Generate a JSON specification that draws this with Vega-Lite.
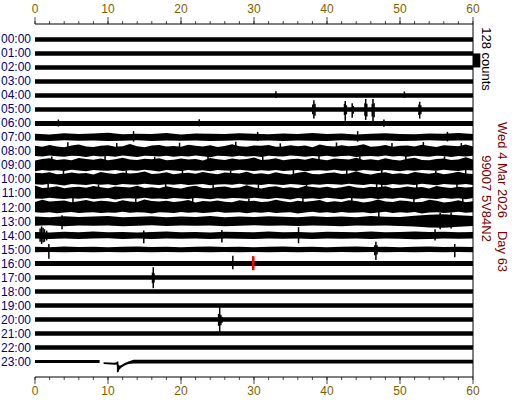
{
"$schema": "https://vega.github.io/schema/vega-lite/v6.json",
"width": 438, "height": 353,
"autosize": {"type": "none"},
"padding": {"left": 35, "top": 24, "right": 39, "bottom": 23},
"background": "white",
"config": {"view": {"stroke": null}, "font": "Liberation Sans", "axis": {"disable": true}},
"data": {"values": [{}]},
"datasets": {
"traces": [
{"tr":"h00","m":0,"a":-0.16,"b":0.16},{"tr":"h00","m":60,"a":-0.16,"b":0.16},
{"tr":"h01","m":0,"a":0.84,"b":1.16},{"tr":"h01","m":60,"a":0.84,"b":1.16},
{"tr":"h02","m":0,"a":1.84,"b":2.16},{"tr":"h02","m":60,"a":1.84,"b":2.16},
{"tr":"h03","m":0,"a":2.84,"b":3.16},{"tr":"h03","m":60,"a":2.84,"b":3.16},
{"tr":"h04","m":0,"a":3.84,"b":4.16},{"tr":"h04","m":60,"a":3.84,"b":4.16},
{"tr":"h05","m":0,"a":4.84,"b":5.16},{"tr":"h05","m":60,"a":4.84,"b":5.16},
{"tr":"h06","m":0,"a":5.82,"b":6.18},{"tr":"h06","m":60,"a":5.82,"b":6.18},
{"tr":"h07","m":0,"a":6.74,"b":7.22},{"tr":"h07","m":2,"a":6.78,"b":7.26},{"tr":"h07","m":4,"a":6.70,"b":7.20},{"tr":"h07","m":6,"a":6.76,"b":7.24},{"tr":"h07","m":8,"a":6.72,"b":7.21},{"tr":"h07","m":10,"a":6.67,"b":7.25},{"tr":"h07","m":12,"a":6.77,"b":7.23},{"tr":"h07","m":14,"a":6.73,"b":7.20},{"tr":"h07","m":16,"a":6.75,"b":7.26},{"tr":"h07","m":18,"a":6.69,"b":7.22},{"tr":"h07","m":20,"a":6.78,"b":7.24},{"tr":"h07","m":22,"a":6.72,"b":7.21},{"tr":"h07","m":24,"a":6.74,"b":7.25},{"tr":"h07","m":26,"a":6.76,"b":7.23},{"tr":"h07","m":28,"a":6.70,"b":7.20},{"tr":"h07","m":30,"a":6.73,"b":7.24},{"tr":"h07","m":32,"a":6.77,"b":7.22},{"tr":"h07","m":34,"a":6.71,"b":7.26},{"tr":"h07","m":36,"a":6.75,"b":7.21},{"tr":"h07","m":38,"a":6.68,"b":7.23},{"tr":"h07","m":40,"a":6.76,"b":7.25},{"tr":"h07","m":42,"a":6.72,"b":7.20},{"tr":"h07","m":44,"a":6.78,"b":7.24},{"tr":"h07","m":46,"a":6.73,"b":7.22},{"tr":"h07","m":48,"a":6.70,"b":7.21},{"tr":"h07","m":50,"a":6.75,"b":7.25},{"tr":"h07","m":52,"a":6.77,"b":7.23},{"tr":"h07","m":54,"a":6.71,"b":7.20},{"tr":"h07","m":56,"a":6.74,"b":7.24},{"tr":"h07","m":58,"a":6.69,"b":7.22},{"tr":"h07","m":60,"a":6.76,"b":7.21},
{"tr":"h08","m":0,"a":7.60,"b":8.32},{"tr":"h08","m":1,"a":7.67,"b":8.36},{"tr":"h08","m":2,"a":7.53,"b":8.29},{"tr":"h08","m":3,"a":7.64,"b":8.34},{"tr":"h08","m":4,"a":7.69,"b":8.38},{"tr":"h08","m":5,"a":7.57,"b":8.31},{"tr":"h08","m":6,"a":7.50,"b":8.33},{"tr":"h08","m":7,"a":7.65,"b":8.40},{"tr":"h08","m":8,"a":7.68,"b":8.30},{"tr":"h08","m":9,"a":7.59,"b":8.35},{"tr":"h08","m":10,"a":7.55,"b":8.32},{"tr":"h08","m":11,"a":7.66,"b":8.37},{"tr":"h08","m":12,"a":7.62,"b":8.29},{"tr":"h08","m":13,"a":7.47,"b":8.34},{"tr":"h08","m":14,"a":7.63,"b":8.39},{"tr":"h08","m":15,"a":7.69,"b":8.31},{"tr":"h08","m":16,"a":7.58,"b":8.33},{"tr":"h08","m":17,"a":7.54,"b":8.36},{"tr":"h08","m":18,"a":7.65,"b":8.30},{"tr":"h08","m":19,"a":7.61,"b":8.38},{"tr":"h08","m":20,"a":7.67,"b":8.32},{"tr":"h08","m":21,"a":7.52,"b":8.35},{"tr":"h08","m":22,"a":7.59,"b":8.29},{"tr":"h08","m":23,"a":7.64,"b":8.34},{"tr":"h08","m":24,"a":7.56,"b":8.41},{"tr":"h08","m":25,"a":7.68,"b":8.31},{"tr":"h08","m":26,"a":7.61,"b":8.33},{"tr":"h08","m":27,"a":7.49,"b":8.37},{"tr":"h08","m":28,"a":7.63,"b":8.30},{"tr":"h08","m":29,"a":7.66,"b":8.35},{"tr":"h08","m":30,"a":7.57,"b":8.32},{"tr":"h08","m":31,"a":7.60,"b":8.39},{"tr":"h08","m":32,"a":7.53,"b":8.31},{"tr":"h08","m":33,"a":7.67,"b":8.34},{"tr":"h08","m":34,"a":7.64,"b":8.36},{"tr":"h08","m":35,"a":7.55,"b":8.29},{"tr":"h08","m":36,"a":7.62,"b":8.33},{"tr":"h08","m":37,"a":7.58,"b":8.38},{"tr":"h08","m":38,"a":7.69,"b":8.32},{"tr":"h08","m":39,"a":7.51,"b":8.35},{"tr":"h08","m":40,"a":7.61,"b":8.30},{"tr":"h08","m":41,"a":7.65,"b":8.37},{"tr":"h08","m":42,"a":7.56,"b":8.33},{"tr":"h08","m":43,"a":7.63,"b":8.31},{"tr":"h08","m":44,"a":7.59,"b":8.40},{"tr":"h08","m":45,"a":7.48,"b":8.34},{"tr":"h08","m":46,"a":7.66,"b":8.32},{"tr":"h08","m":47,"a":7.62,"b":8.36},{"tr":"h08","m":48,"a":7.54,"b":8.29},{"tr":"h08","m":49,"a":7.67,"b":8.35},{"tr":"h08","m":50,"a":7.60,"b":8.33},{"tr":"h08","m":51,"a":7.57,"b":8.38},{"tr":"h08","m":52,"a":7.64,"b":8.31},{"tr":"h08","m":53,"a":7.52,"b":8.34},{"tr":"h08","m":54,"a":7.61,"b":8.37},{"tr":"h08","m":55,"a":7.68,"b":8.30},{"tr":"h08","m":56,"a":7.55,"b":8.33},{"tr":"h08","m":57,"a":7.59,"b":8.39},{"tr":"h08","m":58,"a":7.63,"b":8.32},{"tr":"h08","m":59,"a":7.50,"b":8.35},{"tr":"h08","m":60,"a":7.65,"b":8.31},
{"tr":"h09","m":0,"a":8.64,"b":9.42},{"tr":"h09","m":1,"a":8.53,"b":9.32},{"tr":"h09","m":2,"a":8.49,"b":9.37},{"tr":"h09","m":3,"a":8.60,"b":9.34},{"tr":"h09","m":4,"a":8.56,"b":9.39},{"tr":"h09","m":5,"a":8.62,"b":9.31},{"tr":"h09","m":6,"a":8.47,"b":9.36},{"tr":"h09","m":7,"a":8.54,"b":9.41},{"tr":"h09","m":8,"a":8.59,"b":9.33},{"tr":"h09","m":9,"a":8.51,"b":9.35},{"tr":"h09","m":10,"a":8.63,"b":9.38},{"tr":"h09","m":11,"a":8.56,"b":9.32},{"tr":"h09","m":12,"a":8.44,"b":9.40},{"tr":"h09","m":13,"a":8.58,"b":9.34},{"tr":"h09","m":14,"a":8.61,"b":9.37},{"tr":"h09","m":15,"a":8.52,"b":9.31},{"tr":"h09","m":16,"a":8.55,"b":9.36},{"tr":"h09","m":17,"a":8.48,"b":9.43},{"tr":"h09","m":18,"a":8.62,"b":9.33},{"tr":"h09","m":19,"a":8.59,"b":9.35},{"tr":"h09","m":20,"a":8.50,"b":9.39},{"tr":"h09","m":21,"a":8.57,"b":9.32},{"tr":"h09","m":22,"a":8.53,"b":9.37},{"tr":"h09","m":23,"a":8.64,"b":9.34},{"tr":"h09","m":24,"a":8.46,"b":9.41},{"tr":"h09","m":25,"a":8.56,"b":9.33},{"tr":"h09","m":26,"a":8.60,"b":9.36},{"tr":"h09","m":27,"a":8.51,"b":9.38},{"tr":"h09","m":28,"a":8.58,"b":9.31},{"tr":"h09","m":29,"a":8.54,"b":9.35},{"tr":"h09","m":30,"a":8.43,"b":9.40},{"tr":"h09","m":31,"a":8.61,"b":9.34},{"tr":"h09","m":32,"a":8.57,"b":9.37},{"tr":"h09","m":33,"a":8.49,"b":9.32},{"tr":"h09","m":34,"a":8.62,"b":9.39},{"tr":"h09","m":35,"a":8.55,"b":9.35},{"tr":"h09","m":36,"a":8.52,"b":9.33},{"tr":"h09","m":37,"a":8.59,"b":9.42},{"tr":"h09","m":38,"a":8.47,"b":9.36},{"tr":"h09","m":39,"a":8.56,"b":9.34},{"tr":"h09","m":40,"a":8.63,"b":9.38},{"tr":"h09","m":41,"a":8.50,"b":9.31},{"tr":"h09","m":42,"a":8.54,"b":9.37},{"tr":"h09","m":43,"a":8.58,"b":9.35},{"tr":"h09","m":44,"a":8.45,"b":9.40},{"tr":"h09","m":45,"a":8.60,"b":9.33},{"tr":"h09","m":46,"a":8.55,"b":9.36},{"tr":"h09","m":47,"a":8.62,"b":9.39},{"tr":"h09","m":48,"a":8.48,"b":9.32},{"tr":"h09","m":49,"a":8.59,"b":9.35},{"tr":"h09","m":50,"a":8.64,"b":9.41},{"tr":"h09","m":51,"a":8.52,"b":9.34},{"tr":"h09","m":52,"a":8.45,"b":9.37},{"tr":"h09","m":53,"a":8.60,"b":9.33},{"tr":"h09","m":54,"a":8.63,"b":9.34},{"tr":"h09","m":55,"a":8.54,"b":9.38},{"tr":"h09","m":56,"a":8.50,"b":9.31},{"tr":"h09","m":57,"a":8.61,"b":9.36},{"tr":"h09","m":58,"a":8.57,"b":9.40},{"tr":"h09","m":59,"a":8.42,"b":9.33},{"tr":"h09","m":60,"a":8.58,"b":9.35},
{"tr":"h10","m":0,"a":9.52,"b":10.34},{"tr":"h10","m":1,"a":9.55,"b":10.37},{"tr":"h10","m":2,"a":9.48,"b":10.31},{"tr":"h10","m":3,"a":9.62,"b":10.36},{"tr":"h10","m":4,"a":9.59,"b":10.43},{"tr":"h10","m":5,"a":9.50,"b":10.33},{"tr":"h10","m":6,"a":9.57,"b":10.35},{"tr":"h10","m":7,"a":9.53,"b":10.39},{"tr":"h10","m":8,"a":9.64,"b":10.32},{"tr":"h10","m":9,"a":9.46,"b":10.37},{"tr":"h10","m":10,"a":9.56,"b":10.34},{"tr":"h10","m":11,"a":9.60,"b":10.41},{"tr":"h10","m":12,"a":9.51,"b":10.33},{"tr":"h10","m":13,"a":9.58,"b":10.36},{"tr":"h10","m":14,"a":9.54,"b":10.38},{"tr":"h10","m":15,"a":9.43,"b":10.31},{"tr":"h10","m":16,"a":9.61,"b":10.35},{"tr":"h10","m":17,"a":9.57,"b":10.40},{"tr":"h10","m":18,"a":9.49,"b":10.34},{"tr":"h10","m":19,"a":9.62,"b":10.37},{"tr":"h10","m":20,"a":9.55,"b":10.32},{"tr":"h10","m":21,"a":9.52,"b":10.39},{"tr":"h10","m":22,"a":9.59,"b":10.35},{"tr":"h10","m":23,"a":9.47,"b":10.33},{"tr":"h10","m":24,"a":9.56,"b":10.42},{"tr":"h10","m":25,"a":9.63,"b":10.36},{"tr":"h10","m":26,"a":9.50,"b":10.34},{"tr":"h10","m":27,"a":9.54,"b":10.38},{"tr":"h10","m":28,"a":9.58,"b":10.31},{"tr":"h10","m":29,"a":9.45,"b":10.37},{"tr":"h10","m":30,"a":9.60,"b":10.35},{"tr":"h10","m":31,"a":9.55,"b":10.40},{"tr":"h10","m":32,"a":9.62,"b":10.33},{"tr":"h10","m":33,"a":9.48,"b":10.36},{"tr":"h10","m":34,"a":9.59,"b":10.39},{"tr":"h10","m":35,"a":9.64,"b":10.32},{"tr":"h10","m":36,"a":9.52,"b":10.35},{"tr":"h10","m":37,"a":9.45,"b":10.41},{"tr":"h10","m":38,"a":9.60,"b":10.34},{"tr":"h10","m":39,"a":9.63,"b":10.37},{"tr":"h10","m":40,"a":9.54,"b":10.33},{"tr":"h10","m":41,"a":9.50,"b":10.34},{"tr":"h10","m":42,"a":9.61,"b":10.38},{"tr":"h10","m":43,"a":9.57,"b":10.31},{"tr":"h10","m":44,"a":9.42,"b":10.36},{"tr":"h10","m":45,"a":9.58,"b":10.40},{"tr":"h10","m":46,"a":9.64,"b":10.33},{"tr":"h10","m":47,"a":9.53,"b":10.35},{"tr":"h10","m":48,"a":9.49,"b":10.42},{"tr":"h10","m":49,"a":9.60,"b":10.32},{"tr":"h10","m":50,"a":9.56,"b":10.37},{"tr":"h10","m":51,"a":9.62,"b":10.34},{"tr":"h10","m":52,"a":9.47,"b":10.39},{"tr":"h10","m":53,"a":9.54,"b":10.31},{"tr":"h10","m":54,"a":9.59,"b":10.36},{"tr":"h10","m":55,"a":9.51,"b":10.41},{"tr":"h10","m":56,"a":9.63,"b":10.33},{"tr":"h10","m":57,"a":9.56,"b":10.35},{"tr":"h10","m":58,"a":9.44,"b":10.38},{"tr":"h10","m":59,"a":9.58,"b":10.32},{"tr":"h10","m":60,"a":9.61,"b":10.40},
{"tr":"h11","m":0,"a":10.43,"b":11.36},{"tr":"h11","m":1,"a":10.61,"b":11.38},{"tr":"h11","m":2,"a":10.57,"b":11.31},{"tr":"h11","m":3,"a":10.49,"b":11.35},{"tr":"h11","m":4,"a":10.62,"b":11.40},{"tr":"h11","m":5,"a":10.55,"b":11.34},{"tr":"h11","m":6,"a":10.52,"b":11.37},{"tr":"h11","m":7,"a":10.59,"b":11.32},{"tr":"h11","m":8,"a":10.47,"b":11.39},{"tr":"h11","m":9,"a":10.56,"b":11.35},{"tr":"h11","m":10,"a":10.63,"b":11.33},{"tr":"h11","m":11,"a":10.50,"b":11.42},{"tr":"h11","m":12,"a":10.54,"b":11.36},{"tr":"h11","m":13,"a":10.58,"b":11.34},{"tr":"h11","m":14,"a":10.45,"b":11.38},{"tr":"h11","m":15,"a":10.60,"b":11.31},{"tr":"h11","m":16,"a":10.55,"b":11.37},{"tr":"h11","m":17,"a":10.62,"b":11.35},{"tr":"h11","m":18,"a":10.48,"b":11.40},{"tr":"h11","m":19,"a":10.59,"b":11.33},{"tr":"h11","m":20,"a":10.64,"b":11.36},{"tr":"h11","m":21,"a":10.52,"b":11.39},{"tr":"h11","m":22,"a":10.45,"b":11.32},{"tr":"h11","m":23,"a":10.60,"b":11.35},{"tr":"h11","m":24,"a":10.63,"b":11.41},{"tr":"h11","m":25,"a":10.54,"b":11.34},{"tr":"h11","m":26,"a":10.50,"b":11.37},{"tr":"h11","m":27,"a":10.61,"b":11.33},{"tr":"h11","m":28,"a":10.57,"b":11.34},{"tr":"h11","m":29,"a":10.42,"b":11.38},{"tr":"h11","m":30,"a":10.58,"b":11.31},{"tr":"h11","m":31,"a":10.64,"b":11.36},{"tr":"h11","m":32,"a":10.53,"b":11.40},{"tr":"h11","m":33,"a":10.49,"b":11.33},{"tr":"h11","m":34,"a":10.60,"b":11.35},{"tr":"h11","m":35,"a":10.56,"b":11.42},{"tr":"h11","m":36,"a":10.62,"b":11.32},{"tr":"h11","m":37,"a":10.47,"b":11.37},{"tr":"h11","m":38,"a":10.54,"b":11.34},{"tr":"h11","m":39,"a":10.59,"b":11.39},{"tr":"h11","m":40,"a":10.51,"b":11.31},{"tr":"h11","m":41,"a":10.63,"b":11.36},{"tr":"h11","m":42,"a":10.56,"b":11.41},{"tr":"h11","m":43,"a":10.44,"b":11.33},{"tr":"h11","m":44,"a":10.58,"b":11.35},{"tr":"h11","m":45,"a":10.61,"b":11.38},{"tr":"h11","m":46,"a":10.52,"b":11.32},{"tr":"h11","m":47,"a":10.55,"b":11.40},{"tr":"h11","m":48,"a":10.48,"b":11.34},{"tr":"h11","m":49,"a":10.62,"b":11.37},{"tr":"h11","m":50,"a":10.59,"b":11.31},{"tr":"h11","m":51,"a":10.50,"b":11.36},{"tr":"h11","m":52,"a":10.57,"b":11.43},{"tr":"h11","m":53,"a":10.53,"b":11.33},{"tr":"h11","m":54,"a":10.64,"b":11.35},{"tr":"h11","m":55,"a":10.46,"b":11.39},{"tr":"h11","m":56,"a":10.56,"b":11.32},{"tr":"h11","m":57,"a":10.60,"b":11.37},{"tr":"h11","m":58,"a":10.51,"b":11.34},{"tr":"h11","m":59,"a":10.58,"b":11.41},{"tr":"h11","m":60,"a":10.54,"b":11.33},
{"tr":"h12","m":0,"a":11.60,"b":12.33},{"tr":"h12","m":1,"a":11.45,"b":12.37},{"tr":"h12","m":2,"a":11.58,"b":12.34},{"tr":"h12","m":3,"a":11.54,"b":12.41},{"tr":"h12","m":4,"a":11.50,"b":12.35},{"tr":"h12","m":5,"a":11.63,"b":12.32},{"tr":"h12","m":6,"a":11.56,"b":12.39},{"tr":"h12","m":7,"a":11.47,"b":12.36},{"tr":"h12","m":8,"a":11.59,"b":12.33},{"tr":"h12","m":9,"a":11.52,"b":12.40},{"tr":"h12","m":10,"a":11.55,"b":12.35},{"tr":"h12","m":11,"a":11.62,"b":12.37},{"tr":"h12","m":12,"a":11.49,"b":12.31},{"tr":"h12","m":13,"a":11.57,"b":12.38},{"tr":"h12","m":14,"a":11.61,"b":12.34},{"tr":"h12","m":15,"a":11.43,"b":12.36},{"tr":"h12","m":16,"a":11.54,"b":12.42},{"tr":"h12","m":17,"a":11.58,"b":12.33},{"tr":"h12","m":18,"a":11.51,"b":12.35},{"tr":"h12","m":19,"a":11.60,"b":12.39},{"tr":"h12","m":20,"a":11.56,"b":12.32},{"tr":"h12","m":21,"a":11.46,"b":12.37},{"tr":"h12","m":22,"a":11.64,"b":12.34},{"tr":"h12","m":23,"a":11.53,"b":12.40},{"tr":"h12","m":24,"a":11.57,"b":12.35},{"tr":"h12","m":25,"a":11.50,"b":12.31},{"tr":"h12","m":26,"a":11.59,"b":12.38},{"tr":"h12","m":27,"a":11.62,"b":12.36},{"tr":"h12","m":28,"a":11.48,"b":12.33},{"tr":"h12","m":29,"a":11.55,"b":12.41},{"tr":"h12","m":30,"a":11.52,"b":12.34},{"tr":"h12","m":31,"a":11.61,"b":12.37},{"tr":"h12","m":32,"a":11.58,"b":12.32},{"tr":"h12","m":33,"a":11.44,"b":12.39},{"tr":"h12","m":34,"a":11.56,"b":12.35},{"tr":"h12","m":35,"a":11.63,"b":12.33},{"tr":"h12","m":36,"a":11.51,"b":12.43},{"tr":"h12","m":37,"a":11.59,"b":12.36},{"tr":"h12","m":38,"a":11.54,"b":12.31},{"tr":"h12","m":39,"a":11.47,"b":12.37},{"tr":"h12","m":40,"a":11.62,"b":12.34},{"tr":"h12","m":41,"a":11.56,"b":12.40},{"tr":"h12","m":42,"a":11.60,"b":12.32},{"tr":"h12","m":43,"a":11.49,"b":12.38},{"tr":"h12","m":44,"a":11.53,"b":12.35},{"tr":"h12","m":45,"a":11.64,"b":12.33},{"tr":"h12","m":46,"a":11.58,"b":12.41},{"tr":"h12","m":47,"a":11.42,"b":12.36},{"tr":"h12","m":48,"a":11.57,"b":12.31},{"tr":"h12","m":49,"a":11.61,"b":12.39},{"tr":"h12","m":50,"a":11.50,"b":12.34},{"tr":"h12","m":51,"a":11.54,"b":12.37},{"tr":"h12","m":52,"a":11.63,"b":12.32},{"tr":"h12","m":53,"a":11.60,"b":12.42},{"tr":"h12","m":54,"a":11.45,"b":12.35},{"tr":"h12","m":55,"a":11.52,"b":12.33},{"tr":"h12","m":56,"a":11.64,"b":12.40},{"tr":"h12","m":57,"a":11.59,"b":12.36},{"tr":"h12","m":58,"a":11.48,"b":12.31},{"tr":"h12","m":59,"a":11.62,"b":12.38},{"tr":"h12","m":60,"a":11.55,"b":12.34},
{"tr":"h13","m":0,"a":12.65,"b":13.30},{"tr":"h13","m":2,"a":12.70,"b":13.27},{"tr":"h13","m":4,"a":12.62,"b":13.33},{"tr":"h13","m":6,"a":12.68,"b":13.29},{"tr":"h13","m":8,"a":12.64,"b":13.31},{"tr":"h13","m":10,"a":12.60,"b":13.28},{"tr":"h13","m":12,"a":12.69,"b":13.34},{"tr":"h13","m":14,"a":12.66,"b":13.30},{"tr":"h13","m":16,"a":12.63,"b":13.27},{"tr":"h13","m":18,"a":12.70,"b":13.32},{"tr":"h13","m":20,"a":12.64,"b":13.29},{"tr":"h13","m":22,"a":12.67,"b":13.31},{"tr":"h13","m":24,"a":12.61,"b":13.28},{"tr":"h13","m":26,"a":12.69,"b":13.33},{"tr":"h13","m":28,"a":12.65,"b":13.30},{"tr":"h13","m":30,"a":12.68,"b":13.27},{"tr":"h13","m":32,"a":12.62,"b":13.31},{"tr":"h13","m":34,"a":12.66,"b":13.29},{"tr":"h13","m":36,"a":12.70,"b":13.32},{"tr":"h13","m":38,"a":12.63,"b":13.28},{"tr":"h13","m":40,"a":12.67,"b":13.30},{"tr":"h13","m":42,"a":12.64,"b":13.33},{"tr":"h13","m":44,"a":12.69,"b":13.29},{"tr":"h13","m":46,"a":12.61,"b":13.31},{"tr":"h13","m":48,"a":12.66,"b":13.28},{"tr":"h13","m":50,"a":12.68,"b":13.32},{"tr":"h13","m":52,"a":12.58,"b":13.36},{"tr":"h13","m":54,"a":12.52,"b":13.42},{"tr":"h13","m":56,"a":12.48,"b":13.45},{"tr":"h13","m":58,"a":12.55,"b":13.38},{"tr":"h13","m":60,"a":12.60,"b":13.32},
{"tr":"h14","m":0,"a":13.75,"b":14.22},{"tr":"h14","m":2,"a":13.78,"b":14.25},{"tr":"h14","m":4,"a":13.73,"b":14.21},{"tr":"h14","m":6,"a":13.76,"b":14.24},{"tr":"h14","m":8,"a":13.72,"b":14.22},{"tr":"h14","m":10,"a":13.77,"b":14.20},{"tr":"h14","m":12,"a":13.74,"b":14.24},{"tr":"h14","m":14,"a":13.79,"b":14.22},{"tr":"h14","m":16,"a":13.75,"b":14.25},{"tr":"h14","m":18,"a":13.72,"b":14.21},{"tr":"h14","m":20,"a":13.76,"b":14.23},{"tr":"h14","m":22,"a":13.74,"b":14.22},{"tr":"h14","m":24,"a":13.78,"b":14.25},{"tr":"h14","m":26,"a":13.73,"b":14.21},{"tr":"h14","m":28,"a":13.75,"b":14.23},{"tr":"h14","m":30,"a":13.77,"b":14.24},{"tr":"h14","m":32,"a":13.72,"b":14.21},{"tr":"h14","m":34,"a":13.76,"b":14.23},{"tr":"h14","m":36,"a":13.74,"b":14.22},{"tr":"h14","m":38,"a":13.78,"b":14.25},{"tr":"h14","m":40,"a":13.73,"b":14.21},{"tr":"h14","m":42,"a":13.75,"b":14.23},{"tr":"h14","m":44,"a":13.77,"b":14.22},{"tr":"h14","m":46,"a":13.72,"b":14.24},{"tr":"h14","m":48,"a":13.76,"b":14.21},{"tr":"h14","m":50,"a":13.74,"b":14.23},{"tr":"h14","m":52,"a":13.71,"b":14.26},{"tr":"h14","m":54,"a":13.75,"b":14.24},{"tr":"h14","m":56,"a":13.73,"b":14.22},{"tr":"h14","m":58,"a":13.76,"b":14.23},{"tr":"h14","m":60,"a":13.74,"b":14.21},
{"tr":"h15","m":0,"a":14.80,"b":15.19},{"tr":"h15","m":2,"a":14.83,"b":15.17},{"tr":"h15","m":4,"a":14.79,"b":15.20},{"tr":"h15","m":6,"a":14.82,"b":15.18},{"tr":"h15","m":8,"a":14.80,"b":15.19},{"tr":"h15","m":10,"a":14.84,"b":15.17},{"tr":"h15","m":12,"a":14.81,"b":15.20},{"tr":"h15","m":14,"a":14.79,"b":15.18},{"tr":"h15","m":16,"a":14.82,"b":15.19},{"tr":"h15","m":18,"a":14.80,"b":15.17},{"tr":"h15","m":20,"a":14.83,"b":15.20},{"tr":"h15","m":22,"a":14.81,"b":15.18},{"tr":"h15","m":24,"a":14.79,"b":15.19},{"tr":"h15","m":26,"a":14.82,"b":15.17},{"tr":"h15","m":28,"a":14.80,"b":15.20},{"tr":"h15","m":30,"a":14.83,"b":15.18},{"tr":"h15","m":32,"a":14.81,"b":15.19},{"tr":"h15","m":34,"a":14.79,"b":15.17},{"tr":"h15","m":36,"a":14.82,"b":15.20},{"tr":"h15","m":38,"a":14.80,"b":15.18},{"tr":"h15","m":40,"a":14.84,"b":15.19},{"tr":"h15","m":42,"a":14.81,"b":15.17},{"tr":"h15","m":44,"a":14.79,"b":15.20},{"tr":"h15","m":46,"a":14.82,"b":15.18},{"tr":"h15","m":48,"a":14.80,"b":15.19},{"tr":"h15","m":50,"a":14.83,"b":15.17},{"tr":"h15","m":52,"a":14.81,"b":15.20},{"tr":"h15","m":54,"a":14.79,"b":15.18},{"tr":"h15","m":56,"a":14.82,"b":15.19},{"tr":"h15","m":58,"a":14.80,"b":15.17},{"tr":"h15","m":60,"a":14.82,"b":15.19},
{"tr":"h16","m":0,"a":15.82,"b":16.18},{"tr":"h16","m":60,"a":15.82,"b":16.18},
{"tr":"h17","m":0,"a":16.84,"b":17.16},{"tr":"h17","m":60,"a":16.84,"b":17.16},
{"tr":"h18","m":0,"a":17.84,"b":18.16},{"tr":"h18","m":60,"a":17.84,"b":18.16},
{"tr":"h19","m":0,"a":18.84,"b":19.16},{"tr":"h19","m":60,"a":18.84,"b":19.16},
{"tr":"h20","m":0,"a":19.84,"b":20.16},{"tr":"h20","m":60,"a":19.84,"b":20.16},
{"tr":"h21","m":0,"a":20.84,"b":21.16},{"tr":"h21","m":60,"a":20.84,"b":21.16},
{"tr":"h22","m":0,"a":21.84,"b":22.16},{"tr":"h22","m":60,"a":21.84,"b":22.16},
{"tr":"h23a","m":0,"a":22.88,"b":23.1},{"tr":"h23a","m":8.85,"a":22.88,"b":23.1},
{"tr":"h23b","m":9.4,"a":23.05,"b":23.18},{"tr":"h23b","m":10.9,"a":23.08,"b":23.22},{"tr":"h23b","m":11.2,"a":23.05,"b":23.2},{"tr":"h23b","m":11.3,"a":23.0,"b":23.76},{"tr":"h23b","m":11.4,"a":23.2,"b":23.74},{"tr":"h23b","m":11.6,"a":23.3,"b":23.55},{"tr":"h23b","m":11.9,"a":23.22,"b":23.4},{"tr":"h23b","m":12.3,"a":23.1,"b":23.28},{"tr":"h23b","m":12.8,"a":23.0,"b":23.18},{"tr":"h23b","m":13.5,"a":22.86,"b":23.14},{"tr":"h23b","m":60,"a":22.86,"b":23.14}
],
"spikes": [
{"m":33,"a":3.7,"b":4.18},{"m":50.6,"a":3.72,"b":4.18},
{"m":38.05,"a":4.65,"b":5.35},{"m":38.2,"a":4.35,"b":5.65},{"m":38.35,"a":4.6,"b":5.45},
{"m":42.4,"a":4.6,"b":5.4},{"m":42.5,"a":4.4,"b":5.8},{"m":42.65,"a":4.7,"b":5.35},
{"m":43.45,"a":4.55,"b":5.6},{"m":43.6,"a":4.75,"b":5.3},
{"m":45.2,"a":4.55,"b":5.45},{"m":45.3,"a":4.25,"b":5.75},{"m":45.45,"a":4.6,"b":5.5},
{"m":46.2,"a":4.6,"b":5.5},{"m":46.3,"a":4.25,"b":5.9},{"m":46.45,"a":4.55,"b":5.55},
{"m":52.6,"a":4.65,"b":5.4},{"m":52.7,"a":4.45,"b":5.65},{"m":52.85,"a":4.7,"b":5.35},
{"m":3.2,"a":5.72,"b":6.22},{"m":22.5,"a":5.7,"b":6.2},{"m":47.8,"a":5.72,"b":6.24},
{"m":13.5,"a":6.55,"b":7.3},{"m":30.5,"a":6.6,"b":7.25},{"m":44.2,"a":6.55,"b":7.3},{"m":56.5,"a":6.6,"b":7.28},
{"m":4.5,"a":7.35,"b":8.0},{"m":11.2,"a":7.4,"b":8.0},{"m":19.8,"a":7.38,"b":8.1},{"m":27.5,"a":7.3,"b":8.0},{"m":33.6,"a":7.42,"b":8.0},{"m":41.3,"a":7.36,"b":8.0},{"m":48.9,"a":7.4,"b":8.1},{"m":53.2,"a":7.33,"b":8.0},{"m":58.4,"a":7.4,"b":8.0},
{"m":2.3,"a":8.35,"b":9.0},{"m":9.6,"a":8.3,"b":9.0},{"m":16.4,"a":8.38,"b":9.1},{"m":23.7,"a":8.32,"b":9.0},{"m":31.2,"a":8.36,"b":9.0},{"m":38.9,"a":8.3,"b":9.0},{"m":44.5,"a":8.35,"b":9.0},{"m":50.8,"a":8.28,"b":9.0},{"m":56.1,"a":8.34,"b":9.0},
{"m":3.9,"a":9.32,"b":10.0},{"m":12.5,"a":9.35,"b":10.0},{"m":20.2,"a":9.3,"b":10.0},{"m":26.8,"a":9.36,"b":10.0},{"m":35.4,"a":9.33,"b":10.0},{"m":42.7,"a":9.3,"b":10.0},{"m":47.5,"a":9.25,"b":10.6},{"m":54.9,"a":9.35,"b":10.0},{"m":59.0,"a":9.32,"b":10.0},
{"m":1.8,"a":10.3,"b":11.0},{"m":8.7,"a":10.35,"b":11.0},{"m":17.9,"a":10.32,"b":11.0},{"m":24.4,"a":10.28,"b":11.0},{"m":30.6,"a":10.35,"b":11.0},{"m":37.2,"a":10.3,"b":11.0},{"m":46.8,"a":10.2,"b":11.2},{"m":52.3,"a":10.33,"b":11.0},{"m":57.8,"a":10.3,"b":11.0},
{"m":5.2,"a":11.32,"b":12.0},{"m":13.8,"a":11.35,"b":12.0},{"m":21.6,"a":11.3,"b":12.0},{"m":29.3,"a":11.36,"b":12.0},{"m":36.7,"a":11.32,"b":12.0},{"m":43.4,"a":11.3,"b":12.0},{"m":47.1,"a":11.5,"b":12.7},{"m":51.9,"a":11.33,"b":12.0},{"m":58.6,"a":11.3,"b":12.0},
{"m":3.7,"a":12.55,"b":13.55},{"m":55.5,"a":12.4,"b":13.55},{"m":57.0,"a":12.35,"b":13.5},
{"m":0.7,"a":13.5,"b":14.45},{"m":0.9,"a":13.35,"b":14.6},{"m":1.1,"a":13.45,"b":14.5},{"m":1.3,"a":13.55,"b":14.45},{"m":1.6,"a":13.65,"b":14.35},
{"m":14.9,"a":13.65,"b":14.55},{"m":25.6,"a":13.6,"b":14.5},{"m":36.1,"a":13.4,"b":14.55},{"m":54.8,"a":13.55,"b":14.35},
{"m":1.9,"a":14.6,"b":15.65},{"m":46.55,"a":14.7,"b":15.4},{"m":46.7,"a":14.45,"b":15.75},{"m":46.85,"a":14.7,"b":15.35},{"m":57.5,"a":14.6,"b":15.55},
{"m":27.1,"a":15.45,"b":16.4},
{"m":16.1,"a":16.65,"b":17.4},{"m":16.2,"a":16.26,"b":17.76},{"m":16.3,"a":16.7,"b":17.35},
{"m":25.15,"a":19.6,"b":20.45},{"m":25.3,"a":19.11,"b":20.9},{"m":25.45,"a":19.65,"b":20.4},{"m":25.6,"a":19.8,"b":20.25},
{"m":11.32,"a":23.0,"b":23.76}
],
"marker": [{"m":29.9,"a":15.47,"b":16.47}],
"minorTicks": [{"m":0},{"m":2},{"m":4},{"m":6},{"m":8},{"m":10},{"m":12},{"m":14},{"m":16},{"m":18},{"m":20},{"m":22},{"m":24},{"m":26},{"m":28},{"m":30},{"m":32},{"m":34},{"m":36},{"m":38},{"m":40},{"m":42},{"m":44},{"m":46},{"m":48},{"m":50},{"m":52},{"m":54},{"m":56},{"m":58},{"m":60}],
"majorTicks": [{"m":0},{"m":10},{"m":20},{"m":30},{"m":40},{"m":50},{"m":60}],
"hours": [{"h":0,"lab":"00:00"},{"h":1,"lab":"01:00"},{"h":2,"lab":"02:00"},{"h":3,"lab":"03:00"},{"h":4,"lab":"04:00"},{"h":5,"lab":"05:00"},{"h":6,"lab":"06:00"},{"h":7,"lab":"07:00"},{"h":8,"lab":"08:00"},{"h":9,"lab":"09:00"},{"h":10,"lab":"10:00"},{"h":11,"lab":"11:00"},{"h":12,"lab":"12:00"},{"h":13,"lab":"13:00"},{"h":14,"lab":"14:00"},{"h":15,"lab":"15:00"},{"h":16,"lab":"16:00"},{"h":17,"lab":"17:00"},{"h":18,"lab":"18:00"},{"h":19,"lab":"19:00"},{"h":20,"lab":"20:00"},{"h":21,"lab":"21:00"},{"h":22,"lab":"22:00"},{"h":23,"lab":"23:00"}]
},
"layer": [
{
"data": {"name": "traces"},
"mark": {"type": "area", "color": "black", "interpolate": "linear"},
"encoding": {
"x": {"field": "m", "type": "quantitative", "scale": {"domain": [0, 60], "nice": false, "zero": false}, "axis": null},
"y": {"field": "a", "type": "quantitative", "scale": {"domain": [-1.1, 24.1], "nice": false, "zero": false, "reverse": true}, "axis": null},
"y2": {"field": "b"},
"detail": {"field": "tr"}
}
},
{
"data": {"name": "spikes"},
"mark": {"type": "rule", "color": "black", "strokeWidth": 1.5},
"encoding": {
"x": {"field": "m", "type": "quantitative"},
"y": {"field": "a", "type": "quantitative"},
"y2": {"field": "b"}
}
},
{
"data": {"name": "marker"},
"mark": {"type": "rule", "color": "#ff0000", "strokeWidth": 2.5},
"encoding": {
"x": {"field": "m", "type": "quantitative"},
"y": {"field": "a", "type": "quantitative"},
"y2": {"field": "b"}
}
},
{
"data": {"name": "minorTicks"},
"mark": {"type": "tick", "orient": "vertical", "size": 3, "thickness": 1, "color": "black"},
"encoding": {
"x": {"field": "m", "type": "quantitative"},
"y": {"datum": -1.207, "type": "quantitative"}
}
},
{
"data": {"name": "minorTicks"},
"mark": {"type": "tick", "orient": "vertical", "size": 3, "thickness": 1, "color": "black"},
"encoding": {
"x": {"field": "m", "type": "quantitative"},
"y": {"datum": 24.207, "type": "quantitative"}
}
},
{
"data": {"name": "majorTicks"},
"mark": {"type": "tick", "orient": "vertical", "size": 7, "thickness": 1, "color": "black"},
"encoding": {
"x": {"field": "m", "type": "quantitative"},
"y": {"datum": -1.35, "type": "quantitative"}
}
},
{
"data": {"name": "majorTicks"},
"mark": {"type": "tick", "orient": "vertical", "size": 7, "thickness": 1, "color": "black"},
"encoding": {
"x": {"field": "m", "type": "quantitative"},
"y": {"datum": 24.35, "type": "quantitative"}
}
},
{
"data": {"name": "majorTicks"},
"mark": {"type": "text", "font": "Liberation Sans", "fontSize": 12, "color": "#7f6000", "align": "center", "baseline": "top"},
"encoding": {
"x": {"field": "m", "type": "quantitative"},
"y": {"datum": -2.56, "type": "quantitative"},
"text": {"field": "m", "type": "quantitative"}
}
},
{
"data": {"name": "majorTicks"},
"mark": {"type": "text", "font": "Liberation Sans", "fontSize": 12, "color": "#7f6000", "align": "center", "baseline": "top"},
"encoding": {
"x": {"field": "m", "type": "quantitative"},
"y": {"datum": 24.74, "type": "quantitative"},
"text": {"field": "m", "type": "quantitative"}
}
},
{
"data": {"name": "hours"},
"mark": {"type": "text", "font": "Liberation Sans", "fontSize": 12, "color": "#000080", "align": "right", "baseline": "middle"},
"encoding": {
"x": {"datum": -0.548, "type": "quantitative"},
"y": {"field": "h", "type": "quantitative"},
"text": {"field": "lab", "type": "nominal"}
}
},
{
"mark": {"type": "rule", "color": "black", "strokeWidth": 1},
"encoding": {
"x": {"datum": 0, "type": "quantitative"},
"x2": {"datum": 60},
"y": {"datum": -1.1, "type": "quantitative"}
}
},
{
"mark": {"type": "rule", "color": "black", "strokeWidth": 1},
"encoding": {
"x": {"datum": 0, "type": "quantitative"},
"x2": {"datum": 60},
"y": {"datum": 24.1, "type": "quantitative"}
}
},
{
"mark": {"type": "rule", "color": "black", "strokeWidth": 1},
"encoding": {
"x": {"datum": 60, "type": "quantitative"},
"y": {"datum": -1.1, "type": "quantitative"},
"y2": {"datum": 24.1}
}
},
{
"mark": {"type": "rect", "color": "black"},
"encoding": {
"x": {"datum": 60, "type": "quantitative"},
"x2": {"datum": 61},
"y": {"datum": 1, "type": "quantitative"},
"y2": {"datum": 2}
}
},
{
"mark": {"type": "text", "angle": 90, "font": "Liberation Sans", "fontSize": 13, "color": "#000000", "align": "center", "baseline": "middle"},
"encoding": {
"x": {"datum": 61.75, "type": "quantitative"},
"y": {"datum": 1.4, "type": "quantitative"},
"text": {"value": "128 counts"}
}
},
{
"mark": {"type": "text", "angle": 90, "font": "Liberation Sans", "fontSize": 13, "color": "#800000", "align": "center", "baseline": "middle"},
"encoding": {
"x": {"datum": 61.78, "type": "quantitative"},
"y": {"datum": 11.36, "type": "quantitative"},
"text": {"value": "99007 5V84N2"}
}
},
{
"mark": {"type": "text", "angle": 90, "font": "Liberation Sans", "fontSize": 13, "color": "#800000", "align": "center", "baseline": "middle"},
"encoding": {
"x": {"datum": 63.97, "type": "quantitative"},
"y": {"datum": 9.32, "type": "quantitative"},
"text": {"value": "Wed 4 Mar 2026"}
}
},
{
"mark": {"type": "text", "angle": 90, "font": "Liberation Sans", "fontSize": 13, "color": "#800000", "align": "center", "baseline": "middle"},
"encoding": {
"x": {"datum": 63.97, "type": "quantitative"},
"y": {"datum": 15.14, "type": "quantitative"},
"text": {"value": "Day 63"}
}
}
]
}
